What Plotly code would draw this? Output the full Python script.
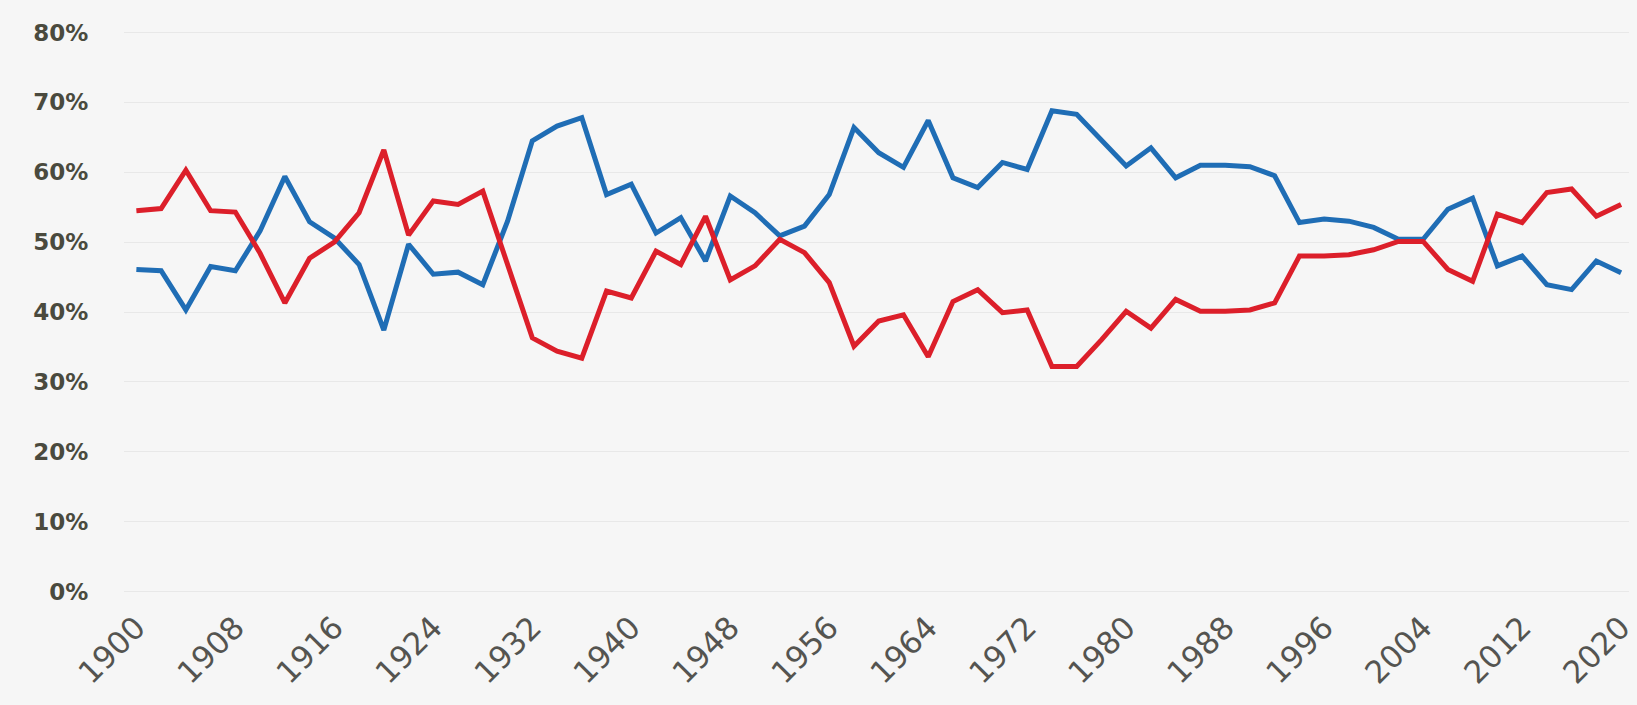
import plotly.graph_objects as go

years = list(range(1900, 2021, 2))

blue = [46.1, 45.9, 40.3, 46.5, 45.9, 51.6, 59.4, 52.9, 50.6, 46.8,
        37.4, 49.7, 45.4, 45.7, 43.9, 53.0, 64.5, 66.6, 67.8, 56.8,
        58.3, 51.3, 53.5, 47.3, 56.6, 54.2, 50.9, 52.3, 56.8, 66.4,
        62.8, 60.7, 67.4, 59.2, 57.8, 61.4, 60.4, 68.8, 68.3, 64.5,
        60.9, 63.5, 59.2, 61.0, 61.0, 60.8, 59.5, 52.8, 53.3, 53.0,
        52.1, 50.4, 50.4, 54.7, 56.3, 46.6, 48.0, 43.9, 43.2, 47.3,
        45.6]

red = [54.5, 54.8, 60.3, 54.5, 54.3, 48.4, 41.3, 47.7, 50.0, 54.2,
       63.2, 51.0, 55.9, 55.4, 57.3, 47.0, 36.3, 34.4, 33.4, 43.0,
       42.0, 48.7, 46.8, 53.7, 44.6, 46.6, 50.4, 48.5, 44.2, 35.1,
       38.7, 39.6, 33.6, 41.5, 43.2, 39.9, 40.3, 32.2, 32.2, 36.0,
       40.1, 37.7, 41.8, 40.1, 40.1, 40.3, 41.3, 48.0, 48.0, 48.2,
       48.9, 50.1, 50.1, 46.1, 44.4, 54.0, 52.8, 57.1, 57.6, 53.7,
       55.4]

y_ticks = [0, 10, 20, 30, 40, 50, 60, 70, 80]
y_tick_text = [f"{v}%" for v in y_ticks]
x_ticks = list(range(1900, 2021, 8))
x_tick_text = [str(v) for v in x_ticks]

fig = go.Figure()
fig.add_trace(go.Scatter(x=years, y=blue, mode="lines",
                         line=dict(color="#1f6db5", width=5), name="Blue"))
fig.add_trace(go.Scatter(x=years, y=red, mode="lines",
                         line=dict(color="#dc1f2a", width=5), name="Red"))

fig.update_layout(
    width=1637, height=705,
    margin=dict(l=124, r=0, t=29, b=110),
    paper_bgcolor="#f6f6f6",
    plot_bgcolor="rgba(0,0,0,0)",
    showlegend=False,
    font=dict(family="DejaVu Sans, sans-serif", color="#4a4a42"),
)
fig.update_xaxes(
    range=[1899, 2020.64],
    tickvals=x_ticks, ticktext=x_tick_text,
    tickangle=-45,
    tickfont=dict(size=31, color="#545450", family="DejaVu Sans, sans-serif"),
    ticklabeloverflow="allow",
    showgrid=False, zeroline=False, showline=False,
    ticks="outside", ticklen=1, tickcolor="rgba(0,0,0,0)",
)
fig.update_yaxes(
    range=[-0.5, 80.5],
    tickvals=y_ticks, ticktext=y_tick_text,
    tickfont=dict(size=23, color="#4a4a3e", family="DejaVu Sans, sans-serif", weight="bold"),
    showgrid=True, gridcolor="#e8e8e8", gridwidth=1,
    zeroline=False, showline=False,
    ticks="outside", ticklen=30, tickcolor="rgba(0,0,0,0)",
)

fig.write_html("out.html", config={"displayModeBar": False},
               post_script="document.body.style.margin='0';document.body.style.overflow='hidden';")
